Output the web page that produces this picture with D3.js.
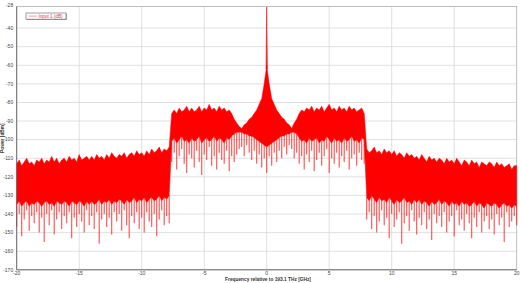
<!DOCTYPE html>
<html>
<head>
<meta charset="utf-8">
<script src="https://cdn.jsdelivr.net/npm/d3@7"></script>
<style>
  html, body { margin: 0; padding: 0; background: #fff; }
  svg { display: block; font-family: "Liberation Sans", Arial, sans-serif; }
</style>
</head>
<body>
<svg id="chart" width="521" height="283"></svg>
<script>
// spectrum in 0.2 GHz bins from -20 to +20 GHz (dBm)
// one row = 2 GHz
const binStartGHz = -20;
const binWidthGHz = 0.2;

// upper edge of the dense trace
const topDbm = [
  -113, -111, -114, -112, -110, -113, -112, -114, -111, -112,
  -110, -113, -111, -112, -109, -112, -110, -113, -111, -110,
  -112, -109, -111, -110, -112, -108, -111, -110, -109, -111,
  -109, -111, -108, -110, -109, -111, -108, -110, -107, -109,
  -110, -108, -109, -107, -110, -108, -107, -109, -106, -108,
  -107, -109, -106, -108, -105, -107, -106, -104, -107, -105,
  -106, -104, -86, -84, -86, -83, -85, -84, -82, -85,
  -83, -85, -84, -82, -85, -83, -84, -81, -84, -83,
  -85, -82, -84, -83, -85, -84, -86, -89, -91, -93,
  -94, -92, -91, -89, -88, -86, -84, -81, -78, -70,
  -60, -70, -78, -81, -84, -86, -88, -89, -91, -92,
  -94, -91, -89, -86, -84, -85, -83, -84, -82, -85,
  -83, -84, -82, -85, -83, -81, -84, -83, -85, -82,
  -84, -83, -85, -82, -84, -83, -85, -84, -83, -86,
  -105, -107, -106, -104, -107, -106, -108, -105, -107, -106,
  -108, -106, -109, -107, -108, -110, -107, -109, -108, -110,
  -109, -111, -108, -110, -112, -109, -111, -110, -112, -110,
  -111, -113, -110, -112, -111, -113, -110, -112, -114, -111,
  -112, -114, -111, -113, -112, -115, -112, -113, -114, -112,
  -113, -115, -112, -114, -113, -115, -114, -113, -116, -114,
  -114
];

// lower edge of the solid part of the trace
const floorDbm = [
  -135, -133, -136, -134, -133, -136, -134, -135, -133, -134,
  -136, -134, -133, -135, -134, -136, -133, -134, -135, -133,
  -134, -136, -133, -134, -135, -133, -134, -136, -133, -135,
  -133, -135, -134, -132, -135, -133, -134, -132, -135, -133,
  -134, -132, -133, -135, -132, -134, -133, -131, -134, -132,
  -133, -131, -134, -132, -131, -133, -132, -130, -133, -131,
  -132, -130, -101, -99, -102, -100, -98, -101, -100, -102,
  -99, -101, -100, -98, -102, -100, -99, -101, -100, -98,
  -101, -99, -100, -102, -99, -100, -98, -97, -96, -96,
  -96, -97, -97, -98, -98, -99, -100, -101, -102, -103,
  -104, -103, -102, -101, -100, -99, -98, -98, -97, -97,
  -96, -96, -97, -99, -101, -100, -102, -99, -101, -100,
  -99, -102, -100, -101, -98, -100, -102, -99, -101, -100,
  -102, -99, -101, -100, -98, -101, -100, -102, -99, -100,
  -131, -133, -130, -132, -134, -131, -133, -132, -134, -131,
  -133, -135, -132, -134, -133, -131, -134, -133, -135, -132,
  -134, -132, -135, -133, -134, -136, -133, -135, -134, -132,
  -135, -133, -134, -136, -133, -135, -134, -136, -133, -135,
  -134, -136, -135, -133, -136, -134, -135, -137, -134, -135,
  -136, -134, -135, -137, -135, -134, -136, -135, -137, -135,
  -136
];

// deepest downward spike inside each bin
const dipDbm = [
  -147, -140, -152, -143, -138, -149, -141, -145, -139, -150,
  -142, -155, -140, -146, -138, -151, -143, -139, -148, -141,
  -145, -139, -153, -142, -147, -140, -144, -150, -138, -146,
  -141, -148, -139, -156, -143, -140, -147, -142, -151, -139,
  -144, -140, -149, -138, -146, -153, -141, -145, -139, -148,
  -142, -150, -139, -144, -147, -140, -152, -143, -138, -146,
  -141, -145, -112, -107, -116, -109, -105, -113, -118, -108,
  -110, -115, -106, -112, -119, -108, -111, -104, -114, -109,
  -116, -107, -111, -113, -106, -117, -109, -112, -108, -105,
  -104, -109, -103, -107, -111, -106, -113, -108, -115, -110,
  -118, -109, -114, -107, -112, -106, -110, -104, -108, -103,
  -105, -110, -107, -113, -109, -116, -108, -112, -106, -117,
  -111, -107, -114, -109, -105, -118, -110, -113, -107, -115,
  -109, -112, -106, -116, -110, -108, -114, -107, -111, -113,
  -143, -139, -148, -141, -150, -144, -138, -146, -142, -153,
  -140, -147, -143, -139, -156, -145, -141, -149, -138, -144,
  -151, -142, -146, -139, -148, -143, -154, -140, -145, -141,
  -147, -139, -150, -144, -141, -152, -138, -146, -143, -149,
  -140, -145, -153, -142, -147, -139, -150, -144, -141, -148,
  -143, -151, -140, -146, -142, -155, -139, -147, -144, -141,
  -146
];

// narrow carrier at 0 GHz
const carrierFreq = [-0.06, 0, 0.06];
const carrierDbm = [-62, -28.6, -62];

const xTicks = [-20, -15, -10, -5, 0, 5, 10, 15, 20];
const xTickLabels = ["-20", "-15", "-10", "-5", "0", "5", "10", "15", "20"];
const yTicks = [-40, -50, -60, -70, -80, -90, -100, -110, -120, -130, -140, -150, -160, -170];
const yTopLabel = "-28";

const legendLabel = "Input 1 (dB)";
const xTitle = "Frequency relative to 193.1 THz [GHz]";
const yTitle = "Power [dBm]";

const svg = d3.select("#chart");
const plotL = 16.7, plotR = 516.7, plotT = 6.5, plotB = 269.8;

const x = d3.scaleLinear().domain([-20, 20]).range([plotL, plotR]);
const y = d3.scaleLinear().domain([-170, -28.4]).range([plotB, plotT]);
const red = "#ff0000";
const binFreq = i => binStartGHz + i * binWidthGHz;

// grid
svg.append("g").selectAll("line").data(xTicks.slice(1, -1)).join("line")
  .attr("x1", d => x(d)).attr("x2", d => x(d))
  .attr("y1", plotT).attr("y2", plotB)
  .attr("stroke", "#d8d8d8").attr("stroke-width", 0.8);
svg.append("g").selectAll("line").data(yTicks.slice(0, -1)).join("line")
  .attr("x1", plotL).attr("x2", plotR)
  .attr("y1", d => y(d)).attr("y2", d => y(d))
  .attr("stroke", "#d8d8d8").attr("stroke-width", 0.8);

// frame
svg.append("rect")
  .attr("x", plotL).attr("y", plotT)
  .attr("width", plotR - plotL).attr("height", plotB - plotT)
  .attr("fill", "none").attr("stroke", "#b0b0b0").attr("stroke-width", 0.8);

const plot = svg.append("g");

// spikes hang from the solid part
plot.append("g").selectAll("line").data(dipDbm).join("line")
  .attr("x1", (d, i) => x(binFreq(i))).attr("x2", (d, i) => x(binFreq(i)))
  .attr("y1", d => y(d))
  .attr("y2", (d, i) => y(floorDbm[i]))
  .attr("stroke", red).attr("stroke-opacity", 0.7).attr("stroke-width", 1.1);

const band = d3.area()
  .x((d, i) => x(binFreq(i)))
  .y0((d, i) => y(floorDbm[i]))
  .y1(d => y(d));
plot.append("path")
  .datum(topDbm)
  .attr("fill", red)
  .attr("stroke", red).attr("stroke-width", 0.5)
  .attr("d", band);

const carrier = d3.line()
  .x((d, i) => x(carrierFreq[i]))
  .y(d => y(d));
plot.append("path")
  .datum(carrierDbm)
  .attr("fill", red).attr("fill-opacity", 0.8)
  .attr("stroke", red).attr("stroke-opacity", 0.7).attr("stroke-width", 0.7)
  .attr("d", carrier);

// axes lines
svg.append("line").attr("x1", plotL).attr("x2", plotL).attr("y1", plotT).attr("y2", plotB)
  .attr("stroke", "#666").attr("stroke-width", 0.9);
svg.append("line").attr("x1", plotL).attr("x2", plotR).attr("y1", plotB).attr("y2", plotB)
  .attr("stroke", "#666").attr("stroke-width", 0.9);

// tick labels
svg.append("g").selectAll("text").data(yTicks).join("text")
  .attr("x", plotL - 3.5).attr("y", d => y(d) + 1.8)
  .attr("text-anchor", "end").attr("font-size", 5).attr("fill", "#444")
  .text(d => d);
svg.append("text")
  .attr("x", plotL - 3.5).attr("y", plotT + 0.5)
  .attr("text-anchor", "end").attr("font-size", 5).attr("fill", "#444")
  .text(yTopLabel);
svg.append("g").selectAll("text").data(xTicks).join("text")
  .attr("x", d => x(d)).attr("y", plotB + 5.5)
  .attr("text-anchor", "middle").attr("font-size", 5).attr("fill", "#444")
  .text((d, i) => xTickLabels[i]);

// titles
svg.append("text")
  .attr("x", 268).attr("y", 281)
  .attr("text-anchor", "middle").attr("font-size", 4.8).attr("font-weight", "bold").attr("fill", "#333")
  .text(xTitle);
svg.append("text")
  .attr("transform", `translate(4.2,${(plotT + plotB) / 2}) rotate(-90)`)
  .attr("text-anchor", "middle").attr("font-size", 4.8).attr("font-weight", "bold").attr("fill", "#333")
  .text(yTitle);

// legend
const lg = svg.append("g").attr("transform", "translate(26,13)");
lg.append("rect").attr("x", 0.8).attr("y", 0.8).attr("width", 40).attr("height", 6.2)
  .attr("fill", "#999");
lg.append("rect").attr("width", 40).attr("height", 6.2)
  .attr("fill", "#fff").attr("stroke", "#777").attr("stroke-width", 0.7);
lg.append("line").attr("x1", 2.5).attr("x2", 11).attr("y1", 3.1).attr("y2", 3.1)
  .attr("stroke", red).attr("stroke-opacity", 0.5).attr("stroke-width", 0.8);
lg.append("text").attr("x", 12.5).attr("y", 4.8)
  .attr("font-size", 4.6).attr("fill", "#e0304a")
  .text(legendLabel);
</script>
</body>
</html>
